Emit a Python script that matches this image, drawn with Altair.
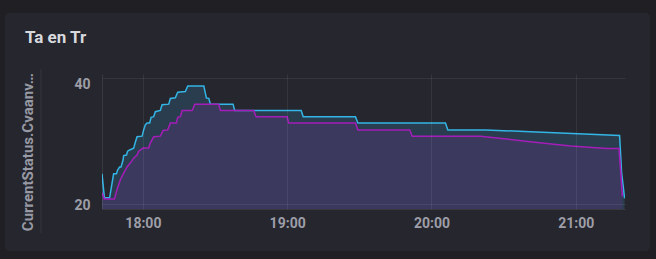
import altair as alt
import pandas as pd

# ---- data ----
blue_times = [
    "17:43:00", "17:44:00", "17:46:10", "17:47:50", "17:49:00", "17:49:30",
    "17:50:20", "17:50:55", "17:51:45", "17:52:00", "17:53:10", "17:53:40",
    "17:54:30", "17:56:10", "17:56:55", "17:57:35", "17:59:40", "18:00:20",
    "18:01:00", "18:01:45", "18:02:50", "18:03:25", "18:04:30", "18:05:10",
    "18:07:15", "18:08:00", "18:10:45", "18:11:25", "18:13:30", "18:14:30",
    "18:17:40", "18:18:40", "18:25:20", "18:26:25", "18:27:25", "18:28:05",
    "18:37:30", "18:38:10", "19:05:50", "19:06:40", "19:28:25", "19:29:25",
    "20:05:50", "20:06:50", "20:22:30", "20:41:15", "21:18:15", "21:19:05",
    "21:20:20",
]
blue_values = [
    24.8, 21.0, 21.0, 24.8, 24.8, 25.4,
    25.9, 25.9, 27.0, 27.7, 27.8, 28.4,
    28.6, 28.9, 29.9, 30.7, 30.8, 31.8,
    32.6, 32.9, 32.9, 33.8, 33.9, 34.7,
    34.9, 35.8, 35.9, 36.8, 36.9, 37.8,
    37.9, 38.8, 38.8, 36.9, 36.8, 35.9,
    35.9, 34.9, 34.9, 33.9, 33.9, 32.9,
    32.9, 31.8, 31.8, 31.5, 30.9, 25.0,
    20.9,
]
magenta_times = [
    "17:43:00", "17:44:00", "17:48:10", "17:49:15", "17:50:40", "17:52:00",
    "17:53:25", "17:55:30", "17:56:10", "17:57:35", "17:58:15", "18:00:05",
    "18:02:25", "18:03:05", "18:04:30", "18:07:15", "18:08:25", "18:10:20",
    "18:11:25", "18:13:55", "18:14:30", "18:15:35", "18:16:20", "18:20:30",
    "18:21:35", "18:31:30", "18:32:15", "18:46:05", "18:47:05", "19:00:00",
    "19:00:40", "19:28:25", "19:29:25", "19:51:00", "19:52:00", "20:20:25",
    "20:30:10", "20:44:00", "20:57:55", "21:13:10", "21:18:00", "21:18:40",
    "21:19:25",
]
magenta_values = [
    21.8, 20.8, 20.8, 22.3, 23.9, 24.9,
    25.9, 26.9, 27.3, 27.8, 28.4, 28.9,
    28.9, 29.7, 30.7, 30.8, 31.7, 31.8,
    32.9, 32.9, 33.8, 33.9, 34.9, 34.9,
    35.9, 35.9, 34.9, 34.9, 33.9, 33.9,
    32.9, 32.9, 31.8, 31.8, 30.8, 30.8,
    30.4, 29.8, 29.25, 28.85, 28.85, 25.4,
    21.2,
]
x_tick_hours = [18, 19, 20, 21]
y_ticks = [20, 40]
y_domain = [19.2, 40.7]
panel_title = "Ta en Tr"
y_title = "CurrentStatus.Cvaanv…"

DAY = "2024-01-01T"
blue = pd.DataFrame({"t": [DAY + t for t in blue_times], "v": blue_values})
magenta = pd.DataFrame({"t": [DAY + t for t in magenta_times], "v": magenta_values})

# ---- styling ----
OUTER = "#1f1f24"
CARD = "#26262e"
BLUE = "#33b5e5"
MAGENTA = "#a51db9"
BLUE_FILL = "#2a3d4e"
MAG_FILL = "#3b3a5e"
TEXT = "#9d9ea8"
FONT = "Roboto"

W, H = 523, 135

x_enc = alt.X(
    "t:T",
    scale=alt.Scale(
        domain=[
            alt.DateTime(year=2024, month=1, date=1, hours=17, minutes=43),
            alt.DateTime(year=2024, month=1, date=1, hours=21, minutes=20, seconds=30),
        ]
    ),
    axis=alt.Axis(
        title=None,
        format="%H:%M",
        values=[alt.DateTime(year=2024, month=1, date=1, hours=h) for h in x_tick_hours],
        ticks=False,
        tickSize=0,
        labelPadding=7,
        labelFontSize=14,
        labelFontWeight="bold",
        labelFont=FONT,
        labelColor=TEXT,
        grid=True,
        gridColor="#ffffff",
        gridOpacity=0.07,
        domain=True,
        domainColor="#ffffff",
        domainOpacity=0.09,
        zindex=1,
    ),
)
y_enc = alt.Y(
    "v:Q",
    scale=alt.Scale(domain=y_domain, zero=False, nice=False),
    axis=alt.Axis(
        title=y_title,
        values=y_ticks,
        ticks=False,
        tickSize=0,
        labelPadding=12,
        labelFontSize=14,
        labelFontWeight="bold",
        labelFont=FONT,
        labelColor=TEXT,
        labelBaseline="alphabetic",
        labelOffset={"condition": {"test": "datum.value >= 40", "value": 10}, "value": 6},
        grid=True,
        gridColor="#ffffff",
        gridOpacity=0.07,
        domain=True,
        domainColor="#ffffff",
        domainOpacity=0.09,
        titleFont=FONT,
        titleFontSize=15,
        titleFontWeight="bold",
        titleColor="#979aa4",
        titleAngle=270,
        titleAlign="center",
        titleBaseline="middle",
        titleX=-74.5,
        titleY=77.7,
        zindex=1,
    ),
)

card = alt.Chart(pd.DataFrame({"k": [0]})).mark_rect(
    color=CARD, cornerRadius=4
).encode(x=alt.value(-97), x2=alt.value(548), y=alt.value(-61), y2=alt.value(177))

sep = alt.Chart(pd.DataFrame({"k": [0]})).mark_rule(
    color="#34343e", strokeWidth=1
).encode(x=alt.value(-61), y=alt.value(-5), y2=alt.value(159))

blue_area = alt.Chart(blue).mark_area(color=BLUE_FILL, clip=True, opacity=1).encode(x=x_enc, y=y_enc)
mag_area = alt.Chart(magenta).mark_area(color=MAG_FILL, clip=True, opacity=1).encode(x="t:T", y="v:Q")
blue_line = alt.Chart(blue).mark_line(color=BLUE, strokeWidth=1.5, clip=True).encode(x="t:T", y="v:Q")
mag_line = alt.Chart(magenta).mark_line(color=MAGENTA, strokeWidth=1.5, clip=True).encode(x="t:T", y="v:Q")

chart = (
    alt.layer(card, sep, blue_area, mag_area, blue_line, mag_line)
    .properties(
        width=W,
        height=H,
        autosize=alt.AutoSizeParams(type="none"),
        padding={"left": 102, "top": 74, "right": 656 - 102 - W, "bottom": 259 - 74 - H},
        background=OUTER,
        title=alt.TitleParams(
            text=panel_title,
            anchor="start",
            frame="group",
            orient="top",
            offset=0,
            dy=47,
            dx=-77,
            baseline="alphabetic",
            fontSize=17,
            fontWeight="bold",
            font=FONT,
            color="#d8d9de",
        ),
    )
    .configure_view(stroke=None)
)

chart.save("out.html", embed_options={"renderer": "svg", "actions": False})
